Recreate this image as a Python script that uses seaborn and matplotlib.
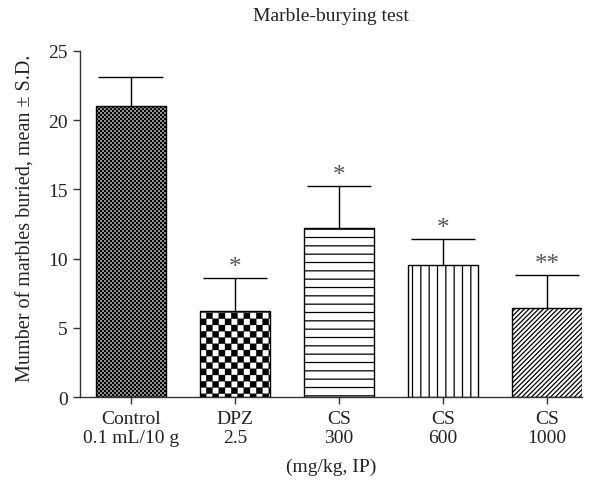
# marble-burying test bar chart
import warnings
import numpy as np
import pandas as pd
import matplotlib
matplotlib.use("Agg")
import matplotlib.pyplot as plt
import matplotlib.hatch as mhatch
from matplotlib.path import Path
import seaborn as sns

warnings.filterwarnings("ignore")

# data
groups = ["Control\n0.1 mL/10 g", "DPZ\n2.5", "CS\n300", "CS\n600", "CS\n1000"]
means = [21.05, 6.2, 12.2, 9.55, 6.45]
sds = [2.05, 2.4, 3.05, 1.85, 2.35]
stars = ["", "*", "*", "*", "**"]
hatches = ["k" * 25, "c" * 8, "--", "||", "/" * 7]


# checkerboard hatches, matplotlib has none built in.
# 'c' = plain checker, 'k' = fine dark checker (slightly enlarged squares)
class CheckerHatch(mhatch.HatchPatternBase):
    char = "c"
    grow = 1.0

    def __init__(self, hatch, density):
        self.n = 2 * hatch.count(self.char)
        n = self.n
        self.cells = [(i, j) for i in range(-1, n + 1) for j in range(-1, n + 1)
                      if (i + j) % 2 == 0] if n else []
        self.num_vertices = len(self.cells) * 5

    def set_vertices_and_codes(self, vertices, codes):
        s = 1.0 / self.n
        h = 0.5 * s * self.grow
        k = 0
        for i, j in self.cells:
            cx, cy = (i + 0.5) * s, (j + 0.5) * s
            vertices[k:k + 5] = [(cx - h, cy - h), (cx + h, cy - h), (cx + h, cy + h),
                                 (cx - h, cy + h), (cx - h, cy - h)]
            codes[k:k + 5] = [Path.MOVETO, Path.LINETO, Path.LINETO,
                              Path.LINETO, Path.CLOSEPOLY]
            k += 5


class DarkCheckerHatch(CheckerHatch):
    char = "k"
    grow = 1.05


mhatch._hatch_types.append(CheckerHatch)
mhatch._hatch_types.append(DarkCheckerHatch)

sns.set_style("ticks")
plt.rcParams["font.family"] = ["Liberation Serif", "DejaVu Serif"]
plt.rcParams["hatch.linewidth"] = 0.9
text_col = "#222222"

df = pd.DataFrame({"group": groups, "mean": means})

f = plt.figure(figsize=(5.95, 4.85), dpi=100)
ax = f.add_axes([0.134, 0.179, 0.844, 0.714])

sns.barplot(x="group", y="mean", data=df, color="white", saturation=1,
            edgecolor="black", linewidth=1.0, width=0.67, ax=ax)

for bar, h in zip(ax.patches, hatches):
    bar.set_hatch(h)
    if h[0] in "ck" and hasattr(bar, "set_hatch_linewidth"):
        bar.set_hatch_linewidth(0.2)

# upper error bars only
x = np.arange(len(groups))
tops = np.array(means) + np.array(sds)
ax.vlines(x, means, tops, color="black", linewidth=1.0)
ax.hlines(tops, x - 0.31, x + 0.31, color="black", linewidth=1.0)

# significance marks
for xi, t, s in zip(x, tops, stars):
    if s:
        ax.annotate(s, (xi, t), xytext=(0, 0), textcoords="offset points",
                    ha="center", va="bottom", fontsize=18, color="#555555")

ax.set_xlim(-0.49, 4.335)
ax.set_ylim(0, 25)
ax.set_yticks([0, 5, 10, 15, 20, 25])
sns.despine(ax=ax)
for sp in ("left", "bottom"):
    ax.spines[sp].set_color("#333333")
    ax.spines[sp].set_linewidth(1.0)
ax.tick_params(axis="both", labelsize=14, length=5, width=1.0,
               colors="#333333", labelcolor=text_col)
ax.tick_params(axis="x", pad=4)

ax.set_xlabel("(mg/kg, IP)", fontsize=14, color=text_col, labelpad=8)
ax.set_ylabel("Mumber of marbles buried, mean \u00b1 S.D.", fontsize=14.5,
              color=text_col)
ax.yaxis.set_label_coords(-0.088, 0.52)
ax.set_title("Marble-burying test", fontsize=14, color=text_col, pad=22)

plt.savefig("out.png", dpi=100)
